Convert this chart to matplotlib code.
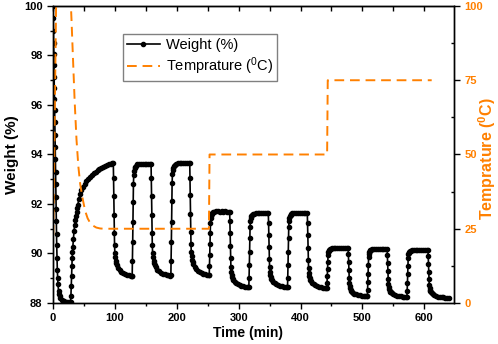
import matplotlib
matplotlib.use('Agg')
import matplotlib.pyplot as plt
from matplotlib.ticker import MultipleLocator

plt.rcParams['font.family'] = ['Liberation Sans', 'DejaVu Sans']
plt.rcParams['font.weight'] = 'bold'
plt.rcParams['mathtext.default'] = 'regular'

orange = '#FF8000'

# weight trace, one block per step of the cycle
time_min = [
    # initial drying
    0, 0.3, 0.6, 0.9, 1.2, 1.5, 1.8, 2.1, 2.4, 2.7, 3.0, 3.3, 3.6, 3.9, 4.2, 4.5, 4.8, 5.1,
    5.4, 5.7, 6.0, 6.5, 7.0, 7.5, 8, 9, 10, 11, 12, 14, 16, 18, 20, 23, 26, 28,
    # first uptake
    28.5, 29, 29.5, 30, 30.5, 31, 31.5, 32, 33, 34, 35, 36, 37, 38, 39, 40, 42, 44,
    46, 48, 51, 54, 57, 60, 63, 66, 69, 72, 75, 78, 81, 84, 87, 90, 93, 96,
    # drop 1
    97.5, 97.9, 98.3, 98.7, 99.1, 99.5, 100, 100.5, 101.5, 102.5, 103.5, 105.5, 107.5,
    110.5, 113.5, 116.5, 119.5, 122.5, 125.5, 127,
    # rise 2
    128, 128.4, 128.8, 129.2, 129.6, 130, 130.5, 131, 132, 133, 134, 136, 139, 142, 145,
    148, 151, 154, 157,
    # drop 2
    158.5, 158.9, 159.3, 159.7, 160.1, 160.5, 161, 161.5, 162.5, 163.5, 164.5, 166.5,
    168.5, 171.5, 174.5, 177.5, 180.5, 183.5, 186.5, 189,
    # rise 3
    190.5, 190.9, 191.3, 191.7, 192.1, 192.5, 193, 193.5, 194.5, 195.5, 196.5, 198.5,
    201.5, 204.5, 207.5, 210.5, 213.5, 216.5, 219.5,
    # drop 3
    221, 221.4, 221.8, 222.2, 222.6, 223, 223.5, 224, 225, 226, 227, 229, 231, 234, 237,
    240, 243, 246, 249, 251.5,
    # rise 4
    252.5, 252.9, 253.3, 253.7, 254.1, 254.5, 255, 255.5, 256.5, 257.5, 258.5, 260.5,
    263.5, 266.5, 269.5, 272.5, 275.5, 278.5, 281.5, 284.5,
    # drop 4
    285.5, 285.9, 286.3, 286.7, 287.1, 287.5, 288, 288.5, 289.5, 290.5, 291.5, 293.5,
    295.5, 298.5, 301.5, 304.5, 307.5, 310.5, 313.5, 315.5,
    # rise 5
    316.5, 316.9, 317.3, 317.7, 318.1, 318.5, 319, 319.5, 320.5, 321.5, 322.5, 324.5,
    327.5, 330.5, 333.5, 336.5, 339.5, 342.5, 345.5,
    # drop 5
    348, 348.4, 348.8, 349.2, 349.6, 350, 350.5, 351, 352, 353, 354, 356, 358, 361, 364,
    367, 370, 373, 376, 378,
    # rise 6
    379, 379.4, 379.8, 380.2, 380.6, 381, 381.5, 382, 383, 384, 385, 387, 390, 393, 396,
    399, 402, 405, 408,
    # drop 6
    411, 411.4, 411.8, 412.2, 412.6, 413, 413.5, 414, 415, 416, 417, 419, 421, 424, 427,
    430, 433, 436, 439, 441.5,
    # rise 7
    442.5, 442.9, 443.3, 443.7, 444.1, 444.5, 445, 445.5, 446.5, 447.5, 448.5, 450.5,
    453.5, 456.5, 459.5, 462.5, 465.5, 468.5, 471.5, 474.5,
    # drop 7
    477, 477.4, 477.8, 478.2, 478.6, 479, 479.5, 480, 481, 482, 483, 485, 487, 490, 493,
    496, 499, 502, 505, 507,
    # rise 8
    508, 508.4, 508.8, 509.2, 509.6, 510, 510.5, 511, 512, 513, 514, 516, 519, 522, 525,
    528, 531, 534, 537,
    # drop 8
    540, 540.4, 540.8, 541.2, 541.6, 542, 542.5, 543, 544, 545, 546, 548, 550, 553, 556,
    559, 562, 565, 568, 571,
    # rise 9
    572, 572.4, 572.8, 573.2, 573.6, 574, 574.5, 575, 576, 577, 578, 580, 583, 586, 589,
    592, 595, 598, 601, 604,
    # drop 9
    606, 606.4, 606.8, 607.2, 607.6, 608, 608.5, 609, 610, 611, 612, 614, 616, 619, 622,
    625, 628, 631, 634, 637, 639.5,
]

weight_pct = [
    100, 99.5, 99.0, 98.5, 98.05, 97.6, 97.15, 96.7, 96.25, 95.8, 95.3, 94.8, 94.3, 93.8,
    93.3, 92.8, 92.3, 91.8, 91.3, 90.8, 90.35, 89.8, 89.35, 89.0, 88.75, 88.5, 88.35, 88.27,
    88.2, 88.14, 88.1, 88.08, 88.06, 88.04, 88.03, 88.02,
    88.05, 88.3, 88.7, 89.1, 89.5, 89.8, 90.05, 90.25, 90.6, 90.9, 91.15, 91.35, 91.52,
    91.68, 91.83, 91.97, 92.2, 92.4, 92.56, 92.68, 92.82, 92.93, 93.02, 93.1, 93.18, 93.25,
    93.31, 93.37, 93.42, 93.47, 93.51, 93.54, 93.57, 93.6, 93.62, 93.64,
    93.65, 93.06, 92.33, 91.56, 90.83, 90.33, 90.01, 89.85, 89.69, 89.60, 89.53, 89.42,
    89.34, 89.26, 89.20, 89.17, 89.14, 89.12, 89.10, 89.09,
    89.10, 89.69, 90.46, 91.27, 92.08, 92.81, 93.17, 93.33, 93.44, 93.51, 93.55, 93.60,
    93.61, 93.62, 93.62, 93.63, 93.62, 93.61, 93.62,
    93.62, 93.04, 92.32, 91.55, 90.83, 90.34, 90.02, 89.86, 89.71, 89.62, 89.55, 89.44,
    89.35, 89.28, 89.22, 89.19, 89.16, 89.14, 89.12, 89.11,
    89.12, 89.71, 90.48, 91.29, 92.11, 92.83, 93.20, 93.36, 93.47, 93.54, 93.58, 93.63,
    93.64, 93.65, 93.66, 93.65, 93.66, 93.67, 93.66,
    93.66, 93.07, 92.35, 91.59, 90.86, 90.37, 90.05, 89.89, 89.74, 89.65, 89.58, 89.47,
    89.38, 89.31, 89.25, 89.22, 89.19, 89.17, 89.15, 89.15,
    89.15, 89.48, 89.92, 90.37, 90.83, 91.24, 91.45, 91.53, 91.60, 91.64, 91.66, 91.69,
    91.70, 91.70, 91.69, 91.70, 91.69, 91.70, 91.69, 91.69,
    91.69, 91.30, 90.81, 90.29, 89.81, 89.47, 89.26, 89.15, 89.05, 88.98, 88.94, 88.86,
    88.81, 88.76, 88.72, 88.70, 88.68, 88.66, 88.65, 88.64,
    88.64, 89.03, 89.53, 90.07, 90.61, 91.08, 91.32, 91.43, 91.50, 91.55, 91.58, 91.61,
    91.62, 91.62, 91.63, 91.62, 91.63, 91.62, 91.62,
    91.62, 91.23, 90.76, 90.25, 89.78, 89.45, 89.24, 89.14, 89.04, 88.98, 88.93, 88.86,
    88.80, 88.75, 88.72, 88.69, 88.68, 88.66, 88.65, 88.64,
    88.64, 89.03, 89.54, 90.08, 90.61, 91.09, 91.33, 91.44, 91.51, 91.56, 91.59, 91.62,
    91.63, 91.63, 91.62, 91.63, 91.63, 91.62, 91.62,
    91.62, 91.23, 90.74, 90.23, 89.75, 89.42, 89.20, 89.10, 88.99, 88.93, 88.89, 88.81,
    88.76, 88.71, 88.67, 88.65, 88.63, 88.61, 88.60, 88.60,
    88.60, 88.81, 89.09, 89.38, 89.67, 89.93, 90.06, 90.11, 90.16, 90.18, 90.20, 90.21,
    90.22, 90.23, 90.22, 90.22, 90.21, 90.22, 90.21, 90.21,
    90.21, 89.96, 89.65, 89.32, 89.01, 88.80, 88.67, 88.60, 88.53, 88.49, 88.46, 88.42,
    88.38, 88.35, 88.32, 88.31, 88.30, 88.29, 88.28, 88.28,
    88.28, 88.53, 88.85, 89.19, 89.53, 89.84, 89.99, 90.06, 90.10, 90.13, 90.15, 90.17,
    90.18, 90.18, 90.19, 90.18, 90.18, 90.17, 90.18,
    90.18, 89.93, 89.62, 89.29, 88.98, 88.77, 88.64, 88.57, 88.50, 88.46, 88.43, 88.39,
    88.35, 88.32, 88.29, 88.28, 88.27, 88.26, 88.25, 88.25,
    88.25, 88.50, 88.82, 89.16, 89.50, 89.81, 89.96, 90.03, 90.07, 90.10, 90.12, 90.14,
    90.15, 90.15, 90.16, 90.15, 90.15, 90.14, 90.15, 90.15,
    90.15, 89.90, 89.59, 89.26, 88.95, 88.74, 88.61, 88.54, 88.47, 88.43, 88.40, 88.36,
    88.32, 88.29, 88.26, 88.25, 88.24, 88.23, 88.22, 88.22, 88.22,
]

temp_time_min = [0.5, 5, 29, 30, 32, 35, 38, 41, 44, 48, 52, 56, 60, 65, 70, 76, 82,
                 252, 253, 443, 444, 612]
temp_c = [23, 100, 100, 95, 84, 68, 55, 46, 40, 35, 31, 28.5, 27, 26, 25.4, 25.1, 25,
          25, 50, 50, 75, 75]

fig = plt.figure(figsize=(4.98, 3.44), dpi=100)
ax = fig.add_axes([0.1064, 0.1192, 0.8052, 0.8634])

w_line, = ax.plot(time_min, weight_pct, color='black', lw=1.2, marker='o', ms=3.0,
                  label='Weight (%)')
ax.set_xlim(0, 648)
ax.set_ylim(88, 100)
ax.xaxis.set_major_locator(MultipleLocator(100))
ax.xaxis.set_minor_locator(MultipleLocator(50))
ax.yaxis.set_major_locator(MultipleLocator(2))
ax.yaxis.set_minor_locator(MultipleLocator(1))
ax.tick_params(which='both', direction='out', labelsize=8, width=1)
ax.tick_params(which='major', length=4)
ax.tick_params(which='minor', length=2.5)

top = ax.secondary_xaxis('top')
top.xaxis.set_major_locator(MultipleLocator(50))
top.tick_params(direction='in', length=3.5, width=1, labeltop=False)

ax2 = ax.twinx()
t_line, = ax2.plot(temp_time_min, temp_c, color=orange, lw=1.4, dashes=(5, 3),
                   label='Temprature ($^0$C)')
ax2.set_ylim(0, 100)
ax2.yaxis.set_major_locator(MultipleLocator(25))
ax2.yaxis.set_minor_locator(MultipleLocator(12.5))
ax2.tick_params(which='both', labelsize=8, width=1, labelcolor=orange)
ax2.tick_params(which='major', direction='out', length=4)
ax2.tick_params(which='minor', direction='in', length=2.5)

for a in (ax, ax2):
    for s in a.spines.values():
        s.set_linewidth(1.0)

fig.text(0.024, 0.551, 'Weight (%)', rotation=90, ha='center', va='center', fontsize=11)
fig.text(0.497, 0.032, 'Time (min)', ha='center', va='center', fontsize=10)
fig.text(0.978, 0.54, 'Temprature ($^0$C)', rotation=90, ha='center', va='center',
         fontsize=11.5, color=orange)

leg = ax2.legend([w_line, t_line], ['Weight (%)', 'Temprature ($^0$C)'],
                 loc='upper left', bbox_to_anchor=(0.247, 0.901),
                 bbox_transform=fig.transFigure, prop={'weight': 'normal', 'size': 10.5},
                 fancybox=False, edgecolor='gray', framealpha=1, borderpad=0.25,
                 handlelength=2.3, handletextpad=0.4, labelspacing=0.25, borderaxespad=0)
leg.get_frame().set_linewidth(1.0)

fig.savefig('out.png', dpi=100)
